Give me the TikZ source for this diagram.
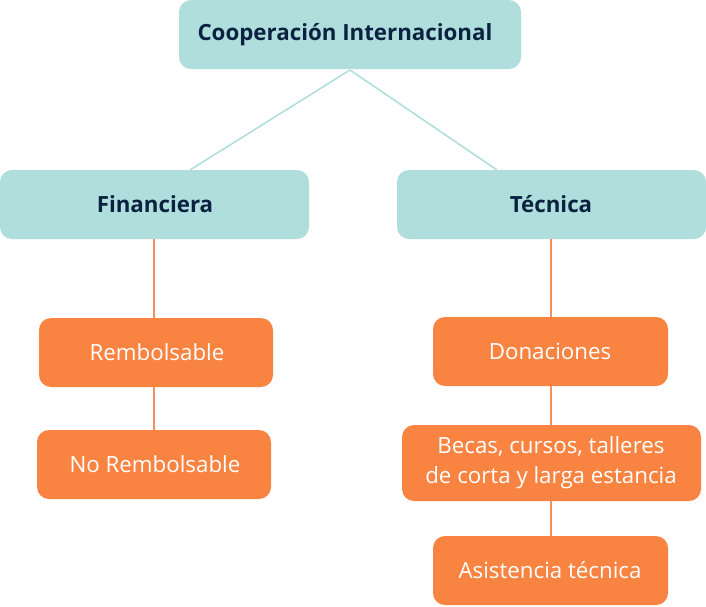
\documentclass[tikz,border=0pt]{standalone}
\usepackage{fontspec}
\setmainfont{Open Sans}
\begin{document}
\begin{tikzpicture}[x=1pt,y=-1pt,
  tealbox/.style={draw=none,fill=teal1,rounded corners=12pt},
  orbox/.style={draw=none,fill=orange1,rounded corners=12pt},
  ttext/.style={text=navy,font=\fontsize{22.3}{26}\selectfont\bfseries},
  otext/.style={text=white,font=\fontsize{22.3}{30}\selectfont,align=center},
  tline/.style={draw=teal1,line width=1.6pt},
  oline/.style={draw=orange2,line width=1.6pt}]
\definecolor{teal1}{HTML}{B0DEDC}
\definecolor{orange1}{HTML}{F98441}
\definecolor{orange2}{HTML}{F59060}
\definecolor{navy}{HTML}{0A2240}
\useasboundingbox (0,0) rectangle (706,606);
% boxes
\path[tealbox] (179,0) rectangle (521,69);
\node[ttext] (coop) at (345,35) {Cooperación Internacional};
\coordinate (coopb) at (350,70);
\path[tealbox] (0,170) rectangle (309,239);
\node[ttext] (fin) at (155,204) {Financiera};
\path[tealbox] (397,170) rectangle (706,239);
\node[ttext] (tec) at (551,204) {Técnica};
\coordinate (finT) at (190,170);
\coordinate (tecT) at (497,170);
\coordinate (finB) at (154,239);
\coordinate (tecB) at (551,239);
\draw[tline] (coopb) -- (finT);
\draw[tline] (coopb) -- (tecT);
% orange boxes
\path[orbox] (39,318) rectangle (273,387);
\node[otext] (remb) at (157,352) {Rembolsable};
\path[orbox] (37,430) rectangle (271,499);
\node[otext] (norem) at (155,464) {No Rembolsable};
\path[orbox] (433,317) rectangle (668,386);
\node[otext] (don) at (550,351) {Donaciones};
\path[orbox] (402,425) rectangle (701,501);
\node[otext] (becas) at (551,463) {Becas, cursos, talleres\\de corta y larga estancia};
\path[orbox] (433,536) rectangle (668,605);
\node[otext] (asis) at (550,570) {Asistencia técnica};
% orange connectors
\coordinate (rembT) at (154,318);
\coordinate (rembB) at (154,387);
\coordinate (noremT) at (154,430);
\coordinate (donT) at (551,317);
\coordinate (donB) at (551,386);
\coordinate (becT) at (551,425);
\coordinate (becB) at (551,501);
\coordinate (asisT) at (551,536);
\draw[oline] (finB) -- (rembT);
\draw[oline] (rembB) -- (noremT);
\draw[oline] (tecB) -- (donT);
\draw[oline] (donB) -- (becT);
\draw[oline] (becB) -- (asisT);
\end{tikzpicture}
\end{document}
